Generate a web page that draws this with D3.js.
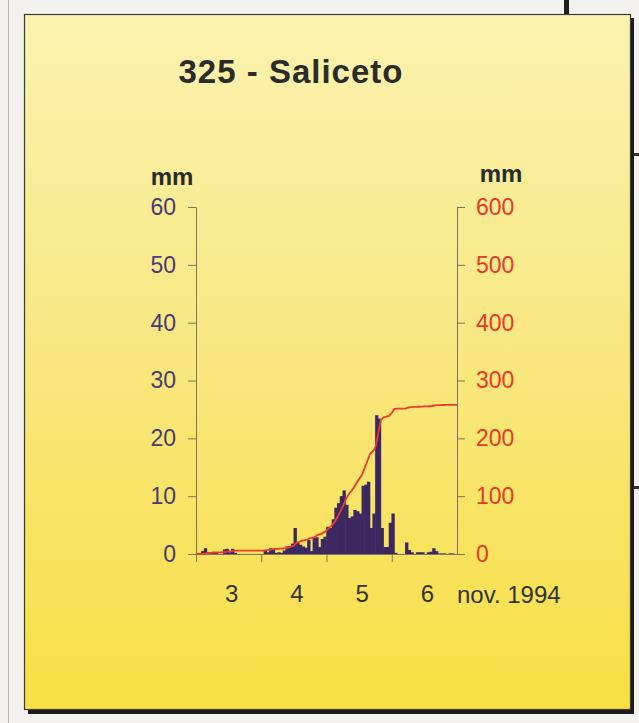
<!DOCTYPE html>
<html>
<head>
<meta charset="utf-8">
<script src="https://cdn.jsdelivr.net/npm/d3@7/dist/d3.min.js"></script>
<style>
  html, body { margin: 0; padding: 0; background: #f3f2ee; }
  svg { display: block; }
  text { font-family: "Liberation Sans", Arial, sans-serif; }
</style>
</head>
<body>
<svg id="chart" width="639" height="723"></svg>
<script>
// ---- DATA ----
const title = "325 - Saliceto";
const dayLabels = ["3", "4", "5", "6"];
const monthLabel = "nov. 1994";
const unitLabel = "mm";
const leftTicks = [0, 10, 20, 30, 40, 50, 60];
const rightTicks = [0, 100, 200, 300, 400, 500, 600];
// hourly rainfall (mm), 3 - 6 Nov 1994
const rain = [
  0, 0, 0.5, 1.0, 0.3, 0.3, 0.4, 0.3, 0, 0, 0.8, 0.9, 0.3, 0.9, 0.2, 0, 0, 0, 0, 0, 0, 0, 0, 0,
  0, 0.7, 0.3, 1.0, 0.9, 0.2, 0.3, 0.2, 0.6, 1.3, 1.4, 1.8, 4.5, 1.9, 1.6, 1.3, 1.1, 2.4, 0.5, 2.8, 2.9, 1.2, 2.6, 3.0,
  4.7, 4.5, 6.0, 8.0, 8.8, 10.0, 11.0, 8.5, 6.2, 6.5, 7.6, 7.4, 7.0, 11.8, 12.0, 12.5, 4.5, 7.0, 24.0, 23.4, 4.5, 1.2, 1.2, 5.4,
  7.0, 0.2, 0, 0, 0, 2.0, 0.7, 0.3, 0, 0.3, 0.3, 0.3, 0, 0.3, 0.4, 1.0, 0.5, 0.1, 0.1, 0.1, 0, 0.1, 0.1, 0
];
// cumulative rainfall (mm) at the end of each hour
const cumulative = [
  0, 0, 0.5, 1.5, 1.8, 2.1, 2.5, 2.8, 2.8, 2.8, 3.6, 4.5, 4.8, 5.7, 5.9, 5.9, 5.9, 5.9, 5.9, 5.9, 5.9, 5.9, 5.9, 5.9,
  5.9, 6.6, 6.9, 7.9, 8.8, 9.0, 9.3, 9.5, 10.1, 11.4, 12.8, 14.6, 19.1, 21.0, 22.6, 23.9, 25.0, 27.4, 27.9, 30.7, 33.6, 34.8, 37.4, 40.4,
  45.1, 49.6, 55.6, 63.6, 72.4, 82.4, 93.4, 101.9, 108.1, 114.6, 122.2, 129.6, 136.6, 148.4, 160.4, 172.9, 177.4, 184.4, 208.4, 231.8, 236.3, 237.5, 238.7, 244.1,
  251.1, 251.3, 251.3, 251.3, 251.3, 253.3, 254.0, 254.3, 254.3, 254.6, 254.9, 255.2, 255.2, 255.5, 255.9, 256.9, 257.4, 257.5, 257.6, 257.7, 257.7, 257.8, 257.9, 257.9
];

// ---- LAYOUT ----
const svg = d3.select("#chart");
const W = 639, H = 723;
const plot = { left: 196, right: 457, top: 207, bottom: 554 };

// page decorations
svg.append("rect").attr("width", W).attr("height", H).attr("fill", "#f3f2ee");
svg.append("line").attr("x1", 8.5).attr("x2", 8.5).attr("y1", 0).attr("y2", H)
  .attr("stroke", "#b9b7b0").attr("stroke-width", 1);
svg.append("rect").attr("x", 564).attr("y", 0).attr("width", 5).attr("height", 16).attr("fill", "#1e1e1e");
svg.append("rect").attr("x", 633).attr("y", 153).attr("width", 6).attr("height", 3).attr("fill", "#333");
svg.append("rect").attr("x", 633).attr("y", 486).attr("width", 6).attr("height", 3).attr("fill", "#333");

// gradient panel
const defs = svg.append("defs");
const grad = defs.append("linearGradient").attr("id", "bg")
  .attr("x1", 0).attr("y1", 0).attr("x2", 0).attr("y2", 1);
grad.append("stop").attr("offset", "0%").attr("stop-color", "#fbf2b0");
grad.append("stop").attr("offset", "45%").attr("stop-color", "#f8e884");
grad.append("stop").attr("offset", "100%").attr("stop-color", "#f8df44");

svg.append("rect").attr("x", 28).attr("y", 18).attr("width", 606).attr("height", 696).attr("fill", "#1c1c1c");
svg.append("rect").attr("x", 24.5).attr("y", 14.5).attr("width", 606).attr("height", 695)
  .attr("fill", "url(#bg)").attr("stroke", "#3a3a3a").attr("stroke-width", 1.2);

// ---- SCALES ----
const x = d3.scaleLinear().domain([0, rain.length]).range([plot.left, plot.right]);
const yL = d3.scaleLinear().domain([0, 60]).range([plot.bottom, plot.top]);
const yR = d3.scaleLinear().domain([0, 600]).range([plot.bottom, plot.top]);

// ---- TITLE ----
svg.append("text").attr("x", 291).attr("y", 83).attr("text-anchor", "middle")
  .attr("font-size", 33).attr("font-weight", "bold").attr("letter-spacing", 1)
  .attr("fill", "#2b2b2b").text(title);

// unit labels
svg.append("text").attr("x", 172).attr("y", 185).attr("text-anchor", "middle")
  .attr("font-size", 24).attr("font-weight", "bold").attr("fill", "#2a2a2a").text(unitLabel);
svg.append("text").attr("x", 501).attr("y", 182).attr("text-anchor", "middle")
  .attr("font-size", 24).attr("font-weight", "bold").attr("fill", "#2a2a2a").text(unitLabel);

// ---- BARS ----
svg.append("g").selectAll("rect").data(rain).join("rect")
  .attr("x", (d, i) => x(i) - 0.3)
  .attr("width", (d, i) => x(i + 1) - x(i) + 0.6)
  .attr("y", d => yL(d))
  .attr("height", d => yL(0) - yL(d))
  .attr("fill", "#3c2860");

// ---- AXES ----
const axisColor = "#7e7460";
const gL = svg.append("g").attr("transform", `translate(${plot.left},0)`)
  .call(d3.axisLeft(yL).tickValues(leftTicks).tickSize(8).tickPadding(12).tickSizeOuter(0));
gL.select(".domain").attr("stroke", axisColor);
gL.selectAll(".tick line").attr("stroke", axisColor);
gL.selectAll(".tick text").attr("font-size", 23).attr("fill", "#4a3a72")
  .attr("font-family", "Liberation Sans, Arial, sans-serif");

const gR = svg.append("g").attr("transform", `translate(${plot.right},0)`)
  .call(d3.axisRight(yR).tickValues(rightTicks).tickSize(8).tickPadding(11).tickSizeOuter(0));
gR.select(".domain").attr("stroke", axisColor);
gR.selectAll(".tick line").attr("stroke", axisColor);
gR.selectAll(".tick text").attr("font-size", 23).attr("fill", "#e8392c")
  .attr("font-family", "Liberation Sans, Arial, sans-serif");

const dayTicks = dayLabels.map((d, i) => i * 24);
const gX = svg.append("g").attr("transform", `translate(0,${plot.bottom})`)
  .call(d3.axisBottom(x).tickValues(dayTicks).tickSize(8).tickFormat("").tickSizeOuter(0));
gX.select(".domain").attr("stroke", axisColor);
gX.selectAll(".tick line").attr("stroke", axisColor);

// day labels centred in each day
svg.append("g").selectAll("text").data(dayLabels).join("text")
  .attr("x", (d, i) => x(i * 24 + 12) + 3)
  .attr("y", 602)
  .attr("text-anchor", "middle")
  .attr("font-size", 24).attr("fill", "#333")
  .text(d => d);
svg.append("text").attr("x", 457).attr("y", 603)
  .attr("font-size", 24).attr("fill", "#333").text(monthLabel);

// ---- CUMULATIVE LINE ----
const pts = [[0, 0]].concat(cumulative.map((c, i) => [i + 1, c]));
svg.append("path").datum(pts)
  .attr("fill", "none").attr("stroke", "#ee3a2e").attr("stroke-width", 1.8)
  .attr("stroke-linejoin", "round")
  .attr("d", d3.line().x(d => x(d[0])).y(d => yR(d[1])));
</script>
</body>
</html>
